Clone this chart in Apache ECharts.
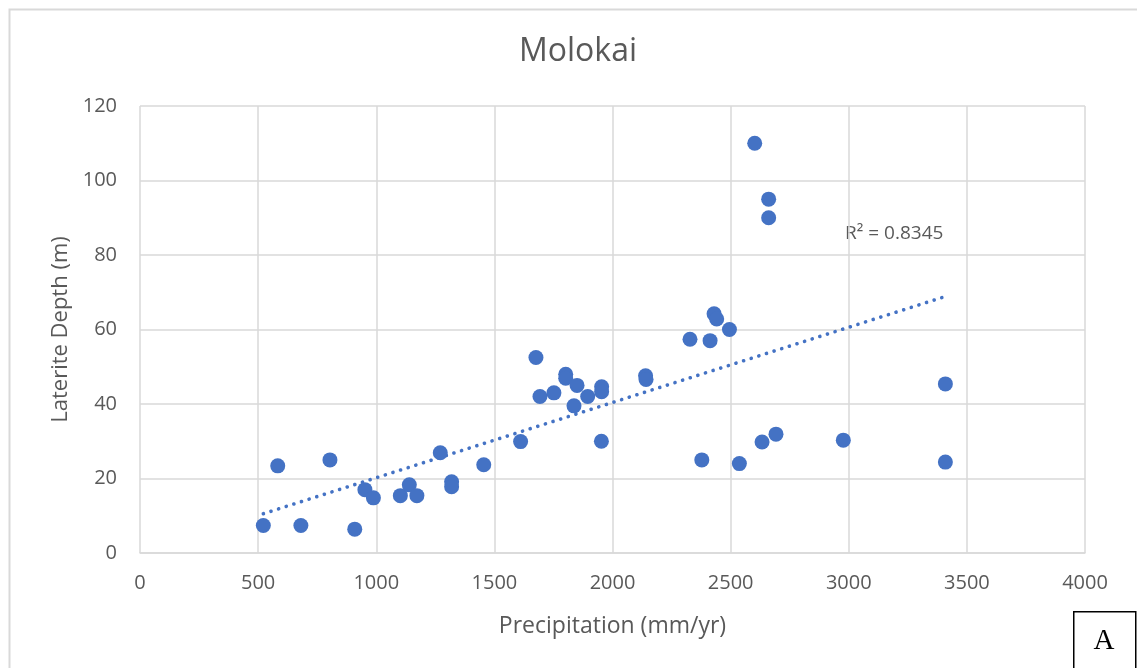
<!DOCTYPE html>
<html>
<head>
<meta charset="utf-8">
<script src="https://cdn.jsdelivr.net/npm/echarts@6/dist/echarts.min.js"></script>
<style>
  html, body { margin: 0; padding: 0; background: #fff; }
  #chart { width: 1137px; height: 668px; }
</style>
</head>
<body>
<div id="chart"></div>
<script>
// Molokai: annual precipitation vs. laterite depth
const precipitation = [
  522, 583, 681, 804, 909, 952, 988, 1102, 1140, 1172,
  1271, 1319, 1319, 1455, 1611, 1676, 1693, 1752, 1802, 1802,
  1837, 1850, 1895, 1954, 1954, 1953, 2140, 2142, 2328, 2413,
  2378, 2430, 2441, 2495, 2537, 2602, 2633, 2661, 2661, 2692,
  2977, 3409, 3409
];
const depth = [
  7.4, 23.4, 7.4, 25.0, 6.4, 17.0, 14.8, 15.4, 18.3, 15.4,
  26.9, 19.1, 17.8, 23.7, 29.9, 52.5, 42.0, 43.0, 48.0, 46.9,
  39.5, 45.0, 42.0, 44.6, 43.3, 30.0, 47.6, 46.6, 57.4, 57.0,
  25.0, 64.2, 62.8, 60.0, 24.0, 110.0, 29.8, 95.0, 90.0, 31.9,
  30.3, 45.4, 24.4
];
const xTicks = { min: 0, max: 4000, step: 500 };
const yTicks = { min: 0, max: 120, step: 20 };

// linear trendline fitted in the source workbook: depth = slope * precipitation + intercept
const trendSlope = 0.0202;
const trendIntercept = 0.0;
const rSquaredText = 'R² = 0.8345';

const xLo = Math.min(...precipitation), xHi = Math.max(...precipitation);
const trend = [[xLo, trendIntercept + trendSlope * xLo], [xHi, trendIntercept + trendSlope * xHi]];

const points = precipitation.map((x, i) => [x, depth[i]]);
const font = '"Open Sans", "Liberation Sans", sans-serif';
const gridColor = '#d9d9d9';
const textColor = '#595959';
const blue = '#4472C4';

const chart = echarts.init(document.getElementById('chart'), null, { renderer: 'canvas' });
chart.setOption({
  backgroundColor: '#fff',
  animation: false,
  title: {
    text: 'Molokai',
    top: 31,
    left: 573,
    textAlign: 'center',
    textStyle: { fontFamily: font, fontSize: 32, fontWeight: 'normal', color: textColor }
  },
  grid: { left: 140, top: 106, width: 945, height: 447, containLabel: false },
  xAxis: {
    type: 'value',
    min: xTicks.min, max: xTicks.max, interval: xTicks.step,
    name: 'Precipitation (mm/yr)',
    nameLocation: 'middle',
    nameGap: 62,
    nameTextStyle: { fontFamily: font, fontSize: 23, color: textColor },
    axisLine: { show: true, lineStyle: { color: gridColor, width: 1.5 } },
    axisTick: { show: false },
    axisLabel: { fontFamily: font, fontSize: 20, color: textColor, margin: 20, formatter: v => String(v) },
    splitLine: { show: true, lineStyle: { color: gridColor, width: 1.5 } }
  },
  yAxis: {
    type: 'value',
    min: yTicks.min, max: yTicks.max, interval: yTicks.step,
    name: 'Laterite Depth (m)',
    nameLocation: 'middle',
    nameGap: 68,
    nameTextStyle: { fontFamily: font, fontSize: 22, color: textColor },
    axisLine: { show: false },
    axisTick: { show: false },
    axisLabel: { fontFamily: font, fontSize: 20, color: textColor, margin: 23, formatter: v => String(v) },
    splitLine: { show: true, lineStyle: { color: gridColor, width: 1.5 } }
  },
  series: [
    {
      type: 'line',
      data: trend,
      symbol: 'none',
      silent: true,
      z: 1,
      lineStyle: { color: blue, width: 3.6, type: [0.1, 7.9], cap: 'round' }
    },
    {
      type: 'scatter',
      data: points,
      symbol: 'circle',
      symbolSize: 15,
      z: 2,
      itemStyle: { color: blue, opacity: 1 }
    }
  ],
  graphic: [
    {
      type: 'rect',
      left: 7, top: 7,
      shape: { width: 1140, height: 670 },
      style: { fill: 'none', stroke: gridColor, lineWidth: 2 },
      silent: true
    },
    {
      type: 'text',
      left: 845, top: 224,
      style: { text: rSquaredText, font: '19px ' + font, fill: textColor }
    },
    {
      type: 'rect',
      left: 1073, top: 611,
      shape: { width: 62, height: 70 },
      style: { fill: '#fff', stroke: '#000', lineWidth: 1.5 }
    },
    {
      type: 'text',
      x: 1104, y: 641,
      style: {
        text: 'A', font: '29px "Liberation Serif", "DejaVu Serif", serif', fill: '#000',
        align: 'center', verticalAlign: 'middle'
      }
    }
  ]
});
</script>
</body>
</html>
